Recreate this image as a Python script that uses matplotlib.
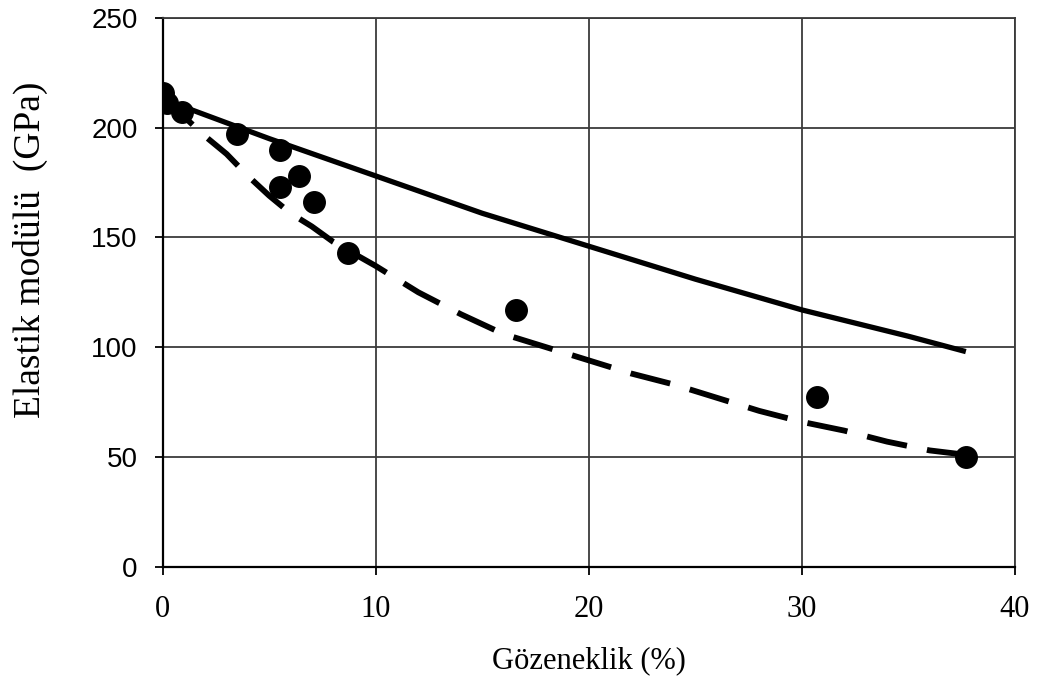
import matplotlib
matplotlib.use("Agg")
import matplotlib.pyplot as plt

# measured points (porosity %, elastic modulus GPa)
por_pts = [0.0, 0.2, 0.9, 3.5, 5.5, 5.5, 6.4, 7.1, 8.7, 16.6, 30.7, 37.7]
mod_pts = [216, 211, 207, 197, 190, 173, 178, 166, 143, 117, 77.5, 50]

# solid model curve
por_solid = [0.0, 5, 10, 15, 20, 25, 30, 35, 37.7]
mod_solid = [213, 195, 178, 161, 146, 131, 117, 105, 98]

# dashed model curve
por_dash = [0.0, 1, 2, 3, 4, 5, 6, 7, 8, 10, 12, 14, 16, 18, 20, 22, 24, 26, 28, 30, 32, 34, 36, 37.7]
mod_dash = [214, 205, 196, 188, 178, 169, 161, 155, 148, 137, 125, 115, 106, 100, 94, 88, 83, 77, 71, 66, 62, 57, 53, 51]

xticks = [0, 10, 20, 30, 40]
yticks = [0, 50, 100, 150, 200, 250]

fig = plt.figure(figsize=(10.43, 6.87), dpi=100)
ax = fig.add_axes([0.156, 0.175, 0.817, 0.799])

ax.plot(por_solid, mod_solid, color='black', lw=3.8, solid_capstyle='butt', zorder=3)
ax.plot(por_dash, mod_dash, color='black', lw=4.2, dashes=(7, 3.5), zorder=3)
ax.plot(por_pts, mod_pts, 'o', color='black', ms=15.5, zorder=4)

ax.set_xlim(0, 40)
ax.set_ylim(0, 250)
ax.set_xticks(xticks)
ax.set_yticks(yticks)
ax.grid(True, color='#3a3a3a', lw=1.3)
ax.set_axisbelow(True)
for s in ax.spines.values():
    s.set_color('#3a3a3a')
    s.set_linewidth(1.3)
ax.spines['left'].set_color('black')
ax.spines['bottom'].set_color('black')
ax.spines['left'].set_linewidth(1.6)
ax.spines['bottom'].set_linewidth(1.6)

ax.tick_params(axis='both', direction='out', length=6, width=1.3, color='black')
ax.tick_params(axis='y', pad=12, labelsize=20, labelfontfamily='Liberation Sans')
ax.tick_params(axis='x', pad=14, labelsize=22, labelfontfamily='Liberation Serif')

ax.set_xlabel('Gözeneklik (%)', fontfamily='Liberation Serif', fontsize=22, labelpad=16)
ax.set_ylabel('Elastik modülü  (GPa)', fontfamily='Liberation Serif', fontsize=27,
              va='center')
ax.yaxis.set_label_coords(-0.155, 0.577)

fig.savefig('out.png', dpi=100)
